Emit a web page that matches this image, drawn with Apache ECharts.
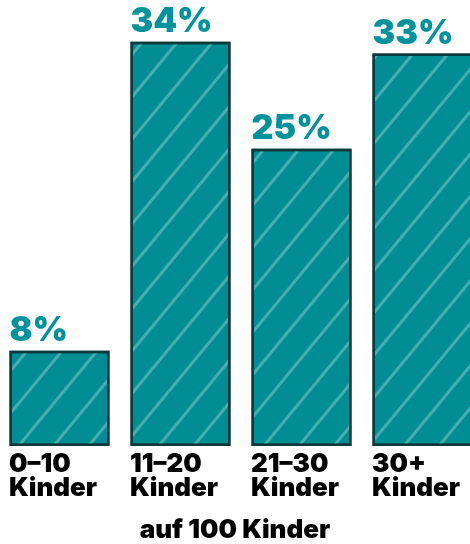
<!DOCTYPE html>
<html><head><meta charset="utf-8">
<script src="https://cdn.jsdelivr.net/npm/echarts@6/dist/echarts.min.js"></script>
<style>html,body{margin:0;padding:0;background:#fff}#c{width:470px;height:544px}</style>
</head><body><div id="c"></div>
<script>
const categories = ['0–10\nKinder', '11–20\nKinder', '21–30\nKinder', '30+\nKinder'];
const shares = [8, 34, 25, 33];
const axisTitle = 'auf 100 Kinder';

const chart = echarts.init(document.getElementById('c'), null, {renderer: 'canvas'});
const F = 'Inter';
chart.setOption({
  animation: false,
  grid: {left: -1, right: -13, top: 0, bottom: 98, containLabel: false, outerBoundsMode: 'none'},
  xAxis: {
    type: 'category',
    data: categories,
    axisLine: {show: false}, axisTick: {show: false},
    axisLabel: {
      interval: 0, margin: 6,
      formatter: v => v.split('\n').map(s => '{a|' + s + '}').join('\n'),
      rich: {a: {width: 101, align: 'left', fontFamily: F, fontWeight: 900, fontSize: 26, lineHeight: 24, color: '#000'}}
    },
    name: axisTitle, nameLocation: 'middle', nameGap: 71,
    nameTextStyle: {fontFamily: F, fontWeight: 900, fontSize: 26, color: '#000', padding: [0, 12, 0, 0]}
  },
  yAxis: {type: 'value', min: 0, max: 37.5, show: false},
  series: [{
    type: 'bar',
    data: shares,
    barWidth: 100,
    itemStyle: {
      color: '#008d93',
      borderColor: '#0e3a3c',
      borderWidth: 2.5,
      decal: {
        symbol: 'rect', symbolSize: 1,
        color: 'rgba(210,240,240,0.33)',
        dashArrayX: [1, 0], dashArrayY: [3, 24],
        rotation: -Math.PI * 0.28
      }
    },
    label: {
      show: true, position: [0, -3], align: 'left', verticalAlign: 'bottom',
      formatter: p => p.value + '%',
      fontFamily: F, fontWeight: 900, fontSize: 34, color: '#00939b'
    }
  }]
});
</script></body></html>
